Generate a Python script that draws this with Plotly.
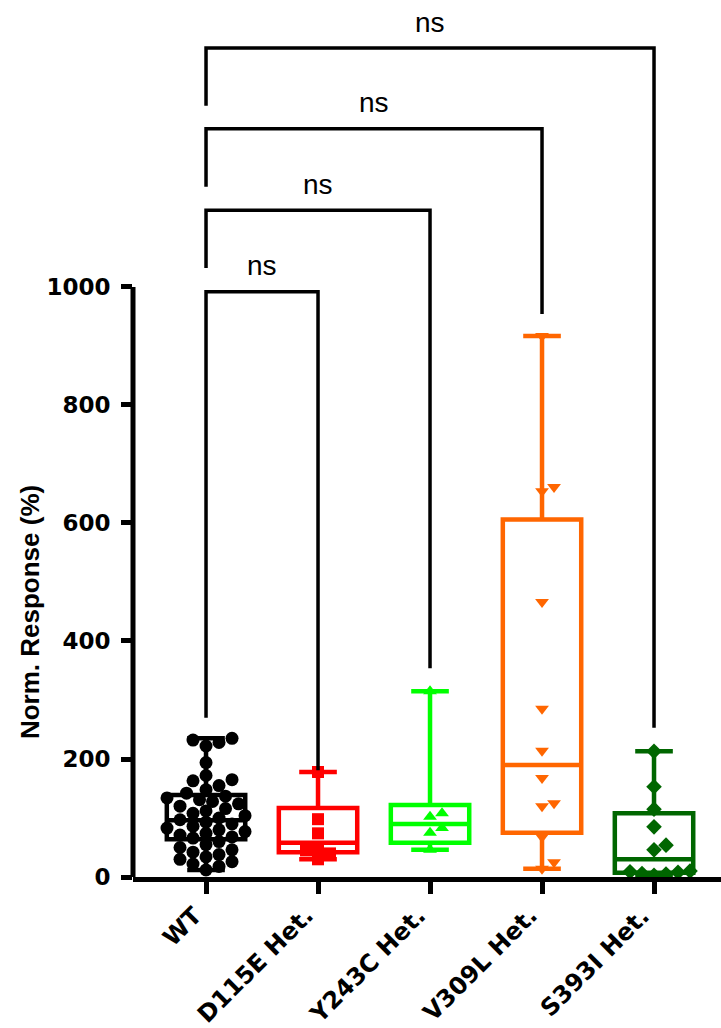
import plotly.graph_objects as go

# ---- data -------------------------------------------------------------
groups = ["WT", "D115E Het.", "Y243C Het.", "V309L Het.", "S393I Het."]
colors = ["#000000", "#FF0000", "#00FF00", "#FF6600", "#006600"]
symbols = ["circle", "square", "triangle-up", "triangle-down", "diamond"]

wt = [235, 232, 228, 222, 194, 172, 165, 163, 155, 148, 142,
      137, 134, 131, 128, 124, 120, 116, 112, 108, 104, 100, 97, 93, 90, 86,
      83, 80, 77, 74, 71, 68, 66,
      60, 55, 50, 46, 42, 38, 34, 30, 26, 22, 18, 12]
d115e = [178, 98, 74, 50, 45, 40, 30]
y243c = [315, 108, 102, 83, 75, 46]
v309l = [917, 661, 654, 466, 285, 214, 168, 125, 120, 68, 25, 14]
s393i = [213, 153, 115, 85, 54, 46, 10, 8, 6, 5, 3, 9]
values = [wt, d115e, y243c, v309l, s393i]

# box statistics (quartiles and median per group)
q1 = [64, 42, 58, 75, 7]
median = [96, 58, 90, 190, 30]
q3 = [139, 117, 122, 606, 108]

y_ticks = [0, 200, 400, 600, 800, 1000]

# comparisons against WT: (other group index, bracket height, left leg end, right leg end)
comp_other = [1, 2, 3, 4]
comp_label = ["ns", "ns", "ns", "ns"]
bracket_y = [992, 1130, 1268, 1405]
left_end = [270, 1032, 1170, 1307]
right_end = [181, 354, 954, 253]

# ---- geometry helpers ------------------------------------------------
W, H = 721, 1028
M_L, M_R, M_T, M_B = 133, 0, 0, 151
X_RANGE = [-0.652, 4.598]
Y_RANGE = [0, 1486.4]
px_per_x = (W - M_L - M_R) / (X_RANGE[1] - X_RANGE[0])
px_per_y = (H - M_T - M_B) / (Y_RANGE[1] - Y_RANGE[0])


def swarm(vals, diam, overlap):
    """Horizontal offsets (in x units) for a compact swarm; `overlap` < 1 lets markers touch/overlap."""
    placed = []
    out = [0.0] * len(vals)
    step = diam * 0.5
    cands = [0.0]
    for k in range(1, 30):
        cands += [k * step, -k * step]
    for i in sorted(range(len(vals)), key=lambda j: vals[j]):
        y = vals[i] * px_per_y
        for c in cands:
            if all((c - px) ** 2 + (y - py) ** 2 >= (diam * overlap) ** 2 for px, py in placed):
                break
        placed.append((c, y))
        out[i] = c / px_per_x
    return out


fig = go.Figure()

# boxes with min/max whiskers
for i, g in enumerate(groups):
    fig.add_trace(go.Box(
        x=[i], q1=[q1[i]], median=[median[i]], q3=[q3[i]],
        lowerfence=[min(values[i])], upperfence=[max(values[i])],
        width=0.7, whiskerwidth=0.48, boxpoints=False,
        line=dict(color=colors[i], width=4.5),
        fillcolor="rgba(255,255,255,0)", name=g, showlegend=False,
    ))

# individual points
for i, g in enumerate(groups):
    size = 13 if i == 0 else 12
    offs = swarm(values[i], size, 0.85 if i == 0 else 0.9)
    fig.add_trace(go.Scatter(
        x=[i + o for o in offs], y=values[i], mode="markers",
        marker=dict(symbol=symbols[i], color=colors[i], size=size, line=dict(width=0)),
        cliponaxis=False, showlegend=False, hoverinfo="y",
    ))

# significance brackets
for k, j in enumerate(comp_other):
    fig.add_trace(go.Scatter(
        x=[0, 0, j, j], y=[left_end[k], bracket_y[k], bracket_y[k], right_end[k]],
        mode="lines", line=dict(color="black", width=3.5),
        cliponaxis=False, showlegend=False, hoverinfo="skip",
    ))
    fig.add_annotation(
        x=j / 2, y=bracket_y[k], text=comp_label[k], showarrow=False,
        yanchor="middle", yshift=26,
        font=dict(family="Liberation Sans, Arial", size=28, color="black"),
    )

# rotated category labels, right end tucked under each tick
for i, g in enumerate(groups):
    fig.add_annotation(
        x=i, xref="x", y=0, yref="paper", text="<b>%s</b>" % g,
        textangle=-45, showarrow=False, xanchor="right", yanchor="top",
        xshift=4, yshift=-22,
        font=dict(family="DejaVu Sans", size=24, color="black"),
    )

# y axis line (0..1000 only)
fig.add_shape(type="line", xref="paper", yref="y", x0=0, x1=0, y0=0, y1=1000,
              line=dict(color="black", width=5))

fig.add_annotation(
    text="<b>Norm. Response (%)</b>", textangle=-90, showarrow=False,
    xref="paper", x=0, xshift=-103, xanchor="center",
    yref="y", y=449, yanchor="middle",
    font=dict(family="Liberation Sans, Arial", size=26, color="black"),
)

fig.update_layout(
    width=W, height=H,
    margin=dict(l=M_L, r=M_R, t=M_T, b=M_B, pad=0),
    paper_bgcolor="white", plot_bgcolor="white",
    xaxis=dict(
        range=X_RANGE, tickmode="array", tickvals=list(range(len(groups))),
        showticklabels=False,
        showline=True, linecolor="black", linewidth=5,
        ticks="outside", ticklen=12, tickwidth=5, tickcolor="black",
        showgrid=False, zeroline=False, automargin=False,
    ),
    yaxis=dict(
        range=Y_RANGE, tickmode="array", tickvals=y_ticks,
        ticktext=["<b>%d</b>" % v for v in y_ticks],
        showline=False, ticks="outside", ticklen=11, tickwidth=5, tickcolor="black",
        showgrid=False, zeroline=False, ticklabelstandoff=6, automargin=False,
        tickfont=dict(family="DejaVu Sans", size=23, color="black"),
    ),
)

fig.write_html("out.html")
